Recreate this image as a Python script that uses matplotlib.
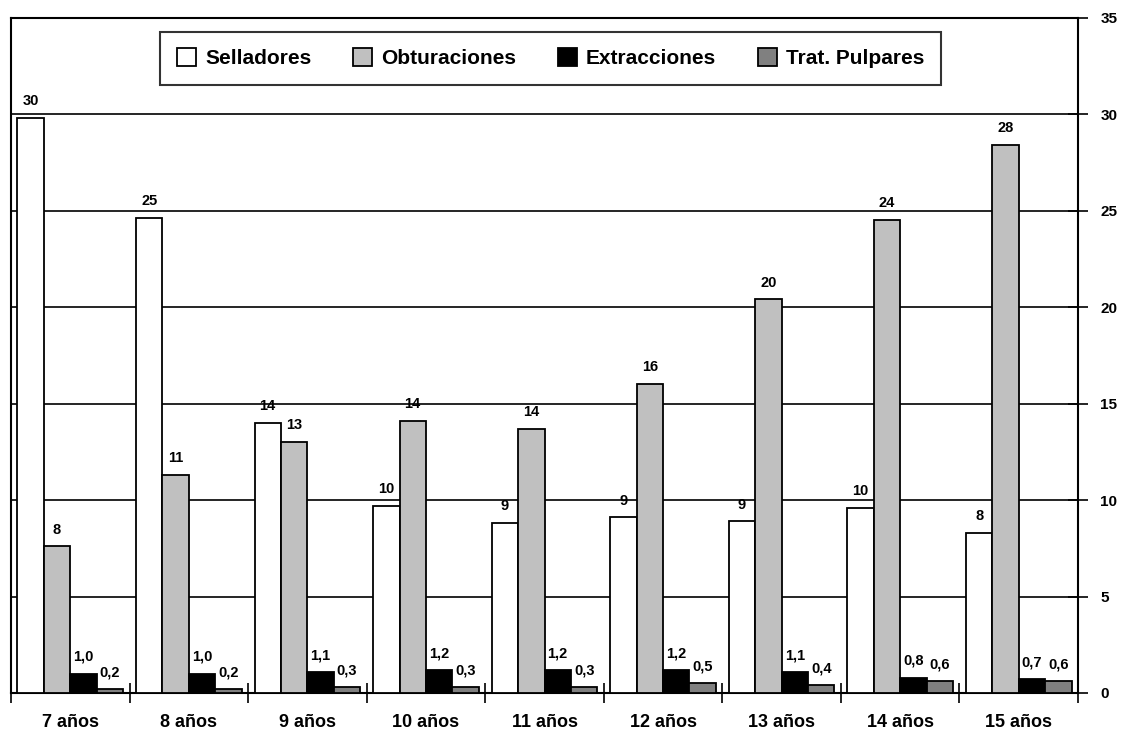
import matplotlib
matplotlib.use("Agg")
import matplotlib.pyplot as plt
import numpy as np

categories = ["7 años", "8 años", "9 años", "10 años", "11 años", "12 años", "13 años", "14 años", "15 años"]
series_names = ["Selladores", "Obturaciones", "Extracciones", "Trat. Pulpares"]
selladores = [29.8, 24.6, 14.0, 9.7, 8.8, 9.1, 8.9, 9.6, 8.3]
obturaciones = [7.6, 11.3, 13.0, 14.1, 13.7, 16.0, 20.4, 24.5, 28.4]
extracciones = [1.0, 1.0, 1.1, 1.2, 1.2, 1.2, 1.1, 0.8, 0.7]
trat_pulpares = [0.2, 0.2, 0.3, 0.3, 0.3, 0.5, 0.4, 0.6, 0.6]
y_ticks = [0, 5, 10, 15, 20, 25, 30, 35]

plt.rcParams['font.family'] = ['Liberation Sans', 'DejaVu Sans']
plt.rcParams['font.weight'] = 'bold'

fig = plt.figure(figsize=(11.22, 7.37), dpi=100)
ax = fig.add_axes([11/1122, 1-693/737, (1078-11)/1122, (693-17.5)/737])

colors = ["#FFFFFF", "#C0C0C0", "#000000", "#808080"]
data = [selladores, obturaciones, extracciones, trat_pulpares]
fmts = ["{:.0f}", "{:.0f}", "{:.1f}", "{:.1f}"]
x = np.arange(len(categories))
w = 0.223
for i, (vals, col, name, fmt) in enumerate(zip(data, colors, series_names, fmts)):
    pos = x + (i - 1.5) * w
    ax.bar(pos, vals, width=w, color=col, edgecolor="black", linewidth=1.3,
           label=name, zorder=3)
    for p, v in zip(pos, vals):
        ax.annotate(fmt.format(v).replace(".", ","), (p, v), xytext=(0, 7),
                    textcoords="offset points", ha="center", va="bottom",
                    fontsize=10.5, fontweight="bold")

ax.set_xlim(-0.5, len(categories) - 0.5)
ax.set_ylim(0, 35)
ax.set_yticks(y_ticks)
ax.yaxis.tick_right()
ax.tick_params(axis="y", direction="inout", length=14, width=1.2, labelsize=11, pad=9)
for yv in y_ticks[1:-1]:
    ax.axhline(yv, color="black", linewidth=1.2, zorder=1)

ax.set_xticks(x)
ax.set_xticklabels(categories, fontsize=13, fontweight="bold")
ax.set_xticks(np.arange(-0.5, len(categories)), minor=True)
ax.tick_params(axis="x", which="major", length=0, pad=15)
ax.tick_params(axis="x", which="minor", direction="inout", length=14, width=1.2)
for lab in ax.get_yticklabels():
    lab.set_fontweight("bold")

for s in ax.spines.values():
    s.set_linewidth(1.5)
    s.set_color("black")

leg = ax.legend(ncol=4, loc="upper center", bbox_to_anchor=(0.5058, 0.979),
                prop={"weight": "bold", "size": 15},
                frameon=True, fancybox=False, edgecolor="black",
                handlelength=0.9, handleheight=0.9, handletextpad=0.45,
                columnspacing=2.0, borderpad=0.8, borderaxespad=0)
leg.get_frame().set_linewidth(1.5)

fig.savefig("out.png", dpi=100)
